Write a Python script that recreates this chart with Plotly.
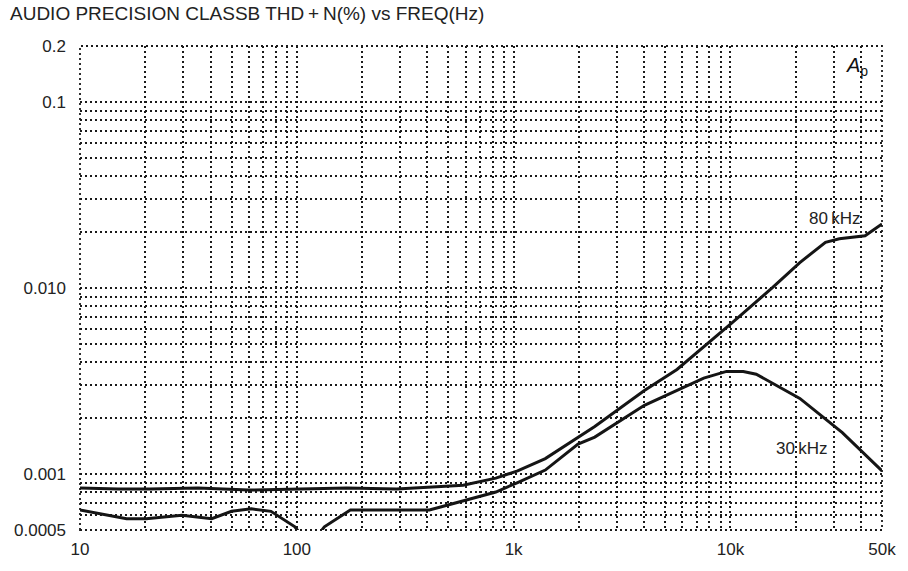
import math
import plotly.graph_objects as go

# ---- data ----
freq_80k = [10, 15, 21, 35, 60, 101, 170, 289, 450, 585, 828, 1043, 1400, 1919,
            2367, 4009, 5667, 10320, 15710, 20890, 27430, 31780, 41780, 50000]
thd_80k = [0.00084, 0.00083, 0.00083, 0.00084, 0.00082, 0.00083, 0.00084, 0.00083,
           0.00085, 0.00087, 0.00095, 0.00104, 0.00121, 0.00154, 0.0018, 0.00281,
           0.00365, 0.0066, 0.0101, 0.0137, 0.0176, 0.0184, 0.0191, 0.0221]

freq_30k = [10, 12.3, 16.4, 20.2, 29.5, 40.5, 50, 61.7, 76, 98, 114.6, 134, 176.5,
            409, 585, 828, 1043, 1400, 1982, 2367, 4009, 7530, 9590, 11460, 13150,
            20890, 32810, 50000]
thd_30k = [0.00064, 0.00061, 0.000575, 0.000575, 0.0006, 0.000575, 0.00063, 0.00065,
           0.00063, 0.00052, 0.00041, 0.00052, 0.00064, 0.00064, 0.000715, 0.0008,
           0.0009, 0.00105, 0.00145, 0.00158, 0.00234, 0.00328, 0.00356, 0.00356,
           0.00344, 0.00255, 0.00167, 0.00104]

x_tickvals = [10, 100, 1000, 10000, 50000]
x_ticktext = ["10", "100", "1k", "10k", "50k"]
x_minor = [m * d for d in (10, 100, 1000) for m in range(2, 10)] + [20000, 30000, 40000]

y_tickvals = [0.0005, 0.001, 0.01, 0.1, 0.2]
y_ticktext = ["0.0005", "0.001", "0.010", "0.1", "0.2"]
y_minor = [0.0006, 0.0007, 0.0008, 0.0009] + \
          [m * d for d in (0.001, 0.01) for m in range(2, 10)]

title_text = "AUDIO PRECISION CLASSB THD\u2009+\u2009N(%) vs FREQ(Hz)"

FONT = "Liberation Sans, Arial, Helvetica, sans-serif"
INK = "#151515"
GRID = "#1a1a1a"
DOTS = "2px,3px"

fig = go.Figure()
fig.add_trace(go.Scatter(x=freq_80k, y=thd_80k, mode="lines", name="80 kHz",
                         line=dict(color=INK, width=3)))
fig.add_trace(go.Scatter(x=freq_30k, y=thd_30k, mode="lines", name="30 kHz",
                         line=dict(color=INK, width=3)))

axis_common = dict(showline=False, zeroline=False, ticks="",
                   showgrid=True, gridcolor=GRID, gridwidth=1.8, griddash=DOTS,
                   ticklabeloverflow="allow",
                   tickfont=dict(family=FONT, size=17, color="#222"))

fig.update_xaxes(type="log", range=[1, math.log10(50000)],
                 tickmode="array", tickvals=x_tickvals, ticktext=x_ticktext,
                 minor=dict(tickmode="array", tickvals=x_minor, showgrid=True,
                            gridcolor=GRID, gridwidth=1.6, griddash=DOTS),
                 ticklabelstandoff=7,
                 **axis_common)
fig.update_yaxes(type="log", range=[math.log10(0.0005), math.log10(0.2)],
                 tickmode="array", tickvals=y_tickvals, ticktext=y_ticktext,
                 minor=dict(tickmode="array", tickvals=y_minor, showgrid=True,
                            gridcolor=GRID, gridwidth=1.6, griddash=DOTS),
                 ticklabelstandoff=13,
                 **axis_common)

# dotted frame (grid lines at the range ends)
fig.add_shape(type="rect", xref="paper", yref="paper", x0=0, x1=1, y0=0, y1=1,
              line=dict(color=GRID, width=1.8, dash=DOTS), layer="below")

fig.add_annotation(x=math.log10(30500), y=math.log10(0.0237), text="80\u2009kHz",
                   showarrow=False, font=dict(family=FONT, size=17, color="#222"),
                   xanchor="center", yanchor="middle")
fig.add_annotation(x=math.log10(21400), y=math.log10(0.00137), text="30\u2009kHz",
                   showarrow=False, font=dict(family=FONT, size=17, color="#222"),
                   xanchor="center", yanchor="middle")
fig.add_annotation(x=0.985, y=0.958, xref="paper", yref="paper",
                   text="<i>A</i><sub>p</sub>", showarrow=False,
                   font=dict(family=FONT, size=20, color="#111"),
                   xanchor="right", yanchor="middle")

fig.update_layout(
    width=908, height=571,
    margin=dict(l=80, r=16, t=46, b=27),
    paper_bgcolor="white", plot_bgcolor="white",
    showlegend=False,
    title=dict(text=title_text, x=10 / 908, xanchor="left", xref="container",
               y=1 - 13 / 571, yanchor="middle", yref="container",
               font=dict(family=FONT, size=19, color="#222")),
)

fig.write_html("out.html", config={"displayModeBar": False},
               post_script="document.body.style.margin='0px';")
